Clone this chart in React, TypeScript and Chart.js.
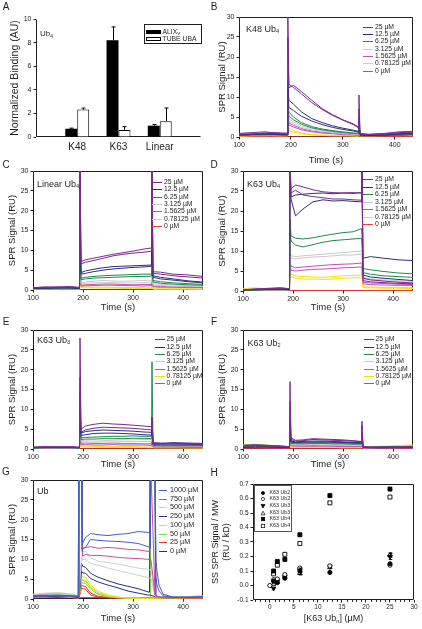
import React, { useEffect, useRef } from 'react';
import { Chart, registerables } from 'chart.js';

Chart.register(...registerables);

const FONT = "'Liberation Sans', Arial, Helvetica, sans-serif";
const INK = '#1f1f1f';
Chart.defaults.font.family = FONT;
Chart.defaults.color = INK;

/* ================= DATA ================= */

/* ---- Panel A: normalized binding ---- */
const A_CATEGORIES = ['K48', 'K63', 'Linear'];
const A_ALIX = [0.7, 8.2, 0.96];
const A_ALIX_ERR = [0.05, 1.13, 0.1];
const A_TUBE = [2.32, 0.6, 1.33];
const A_TUBE_ERR = [0.13, 0.28, 1.13];
const A_Y_TICKS = [0, 2, 4, 6, 8, 10];

/* ---- SPR panels B–F (concentration series, two replicate traces each) ---- */
const SPR_LABELS = ['25 µM', '12.5 µM', '6.25 µM', '3.125 µM', '1.5625 µM', '0.78125 µM', '0 µM'];
const SPR_COLORS = ['#7b2a8c', '#2b2f7d', '#1f8a4e', '#c9c9c9', '#c64bbd', '#f0e200', '#f23c3c'];
const SPR_TRACE_GROUP = [0, 0, 1, 1, 2, 2, 3, 3, 4, 4, 5, 5, 6];
const SPR_X_TICKS = [100, 200, 300, 400];
const SPR_Y_TICKS = [0, 5, 10, 15, 20, 25, 30];

const B_TIME = [100, 125, 150, 175, 190, 193, 194, 196, 205, 220, 240, 260, 280, 300, 320, 330, 331, 333, 350, 380, 410, 435];
const B_K48_UB4 = [
  [0.9, 1.1, 1.3, 0.9, 1.0, 1.0, 31, 13.2, 12.4, 10.8, 8.6, 6.9, 5.4, 4.2, 3.1, 2.3, 10.5, 0.9, 0.7, 0.9, 1.3, 1.4],
  [0.7, 0.8, 1.0, 1.1, 0.8, 0.8, 25, 12.3, 12.9, 11.4, 9.2, 7.1, 5.6, 4.3, 3.3, 2.5, 7.0, 0.7, 0.6, 0.8, 1.1, 1.2],
  [0.6, 0.7, 0.9, 0.8, 0.7, 0.7, 14, 9.2, 8.2, 6.3, 4.6, 3.6, 2.8, 2.2, 1.7, 1.4, 5.0, 0.6, 0.5, 0.5, 0.8, 0.9],
  [0.5, 0.6, 0.7, 0.6, 0.6, 0.6, 12, 7.4, 6.6, 5.2, 4.0, 3.1, 2.4, 1.9, 1.5, 1.2, 4.0, 0.5, 0.4, 0.5, 0.7, 0.8],
  [0.4, 0.6, 0.5, 0.7, 0.5, 0.5, 9, 6.2, 5.0, 3.6, 2.6, 2.0, 1.6, 1.3, 1.0, 0.9, 2.5, 0.4, 0.4, 0.3, 0.5, 0.6],
  [0.3, 0.5, 0.6, 0.5, 0.4, 0.4, 8, 5.2, 4.3, 3.2, 2.3, 1.8, 1.4, 1.1, 0.9, 0.8, 2.0, 0.3, 0.3, 0.4, 0.4, 0.5],
  [0.5, 0.4, 0.6, 0.4, 0.5, 0.5, 7, 4.5, 3.8, 2.8, 2.1, 1.6, 1.3, 1.0, 0.8, 0.7, 1.8, 0.5, 0.4, 0.5, 0.6, 0.7],
  [0.4, 0.5, 0.4, 0.6, 0.4, 0.4, 6, 4.0, 3.3, 2.4, 1.8, 1.4, 1.1, 0.9, 0.7, 0.6, 1.5, 0.4, 0.3, 0.4, 0.5, 0.6],
  [0.6, 0.5, 0.7, 0.6, 0.6, 0.6, 6, 3.5, 2.9, 2.1, 1.5, 1.2, 1.0, 0.8, 0.6, 0.5, 1.4, 0.5, 0.6, 0.7, 0.9, 1.0],
  [0.5, 0.4, 0.5, 0.5, 0.5, 0.5, 5, 3.0, 2.5, 1.8, 1.3, 1.0, 0.8, 0.6, 0.5, 0.4, 1.2, 0.4, 0.5, 0.6, 0.8, 0.9],
  [0.3, 0.4, 0.3, 0.5, 0.4, 0.4, 4, 2.2, 1.6, 1.0, 0.6, 0.5, 0.4, 0.4, 0.3, 0.3, 1.0, 0.3, 0.5, 0.6, 0.9, 1.0],
  [0.2, 0.3, 0.4, 0.3, 0.3, 0.3, 3, 1.6, 1.2, 0.8, 0.5, 0.4, 0.3, 0.3, 0.3, 0.2, 0.8, 0.3, 0.4, 0.5, 0.7, 0.8],
  [0.1, 0.1, 0.1, 0.1, 0.1, 0.1, 0.1, 0, 0, 0, 0, 0, 0, 0, 0, 0, 0, 0.1, 0.1, 0.1, 0.1, 0.1],
];

const CF_TIME = [100, 125, 150, 175, 190, 193, 194, 196, 205, 220, 240, 260, 280, 300, 320, 337, 338, 340, 355, 380, 410, 440];
const C_LINEAR_UB4 = [
  [0.6, 0.8, 0.7, 0.9, 0.7, 0.7, 32, 7.2, 7.6, 8.0, 8.5, 9.0, 9.4, 9.8, 10.3, 10.6, 31, 4.6, 4.5, 4.0, 3.8, 3.4],
  [0.5, 0.6, 0.8, 0.7, 0.6, 0.6, 30, 6.6, 7.0, 7.4, 8.0, 8.6, 9.0, 9.3, 9.5, 9.8, 30, 4.2, 4.0, 3.6, 3.3, 3.0],
  [0.4, 0.5, 0.6, 0.5, 0.5, 0.5, 31, 4.4, 4.8, 5.2, 5.6, 5.9, 6.0, 6.1, 6.2, 6.3, 30, 3.6, 3.2, 2.8, 2.3, 2.0],
  [0.3, 0.4, 0.5, 0.6, 0.4, 0.4, 20, 4.0, 4.2, 4.6, 5.0, 5.3, 5.5, 5.7, 5.8, 6.0, 18, 3.2, 2.8, 2.5, 2.1, 1.8],
  [0.5, 0.6, 0.4, 0.7, 0.5, 0.5, 12, 3.0, 3.2, 3.4, 3.6, 3.7, 3.8, 3.9, 4.0, 4.0, 8, 2.4, 2.1, 1.8, 1.6, 1.4],
  [0.4, 0.5, 0.6, 0.4, 0.4, 0.4, 10, 2.6, 2.8, 3.0, 3.1, 3.2, 3.3, 3.4, 3.4, 3.5, 6, 2.0, 1.7, 1.5, 1.3, 1.2],
  [0.3, 0.4, 0.3, 0.5, 0.3, 0.3, 8, 1.8, 2.0, 2.2, 2.4, 2.3, 2.2, 2.3, 2.4, 2.3, 4, 1.6, 1.4, 1.3, 1.1, 1.0],
  [0.2, 0.3, 0.4, 0.3, 0.3, 0.3, 7, 1.5, 1.7, 1.8, 1.9, 1.9, 1.8, 1.8, 1.9, 1.8, 3.5, 1.3, 1.1, 1.0, 1.0, 0.9],
  [0.2, 0.3, 0.2, 0.3, 0.2, 0.2, 6, 1.2, 1.3, 1.4, 1.5, 1.5, 1.4, 1.3, 1.4, 1.4, 3, 1.0, 0.9, 0.8, 0.8, 0.7],
  [0.1, 0.2, 0.3, 0.2, 0.2, 0.2, 5, 1.0, 1.1, 1.1, 1.2, 1.2, 1.1, 1.1, 1.0, 1.1, 2.5, 0.8, 0.7, 0.7, 0.6, 0.6],
  [0.1, 0.2, 0.1, 0.2, 0.1, 0.1, 4, 0.8, 0.8, 0.7, 0.7, 0.7, 0.6, 0.6, 0.6, 0.5, 2, 0.3, 0.3, 0.3, 0.3, 0.2],
  [0.1, 0.1, 0.2, 0.1, 0.1, 0.1, 3, 0.6, 0.6, 0.5, 0.5, 0.5, 0.4, 0.4, 0.4, 0.4, 1.5, 0.2, 0.2, 0.2, 0.2, 0.2],
  [0.1, 0.1, 0.1, 0.1, 0.1, 0.1, 0.1, 0, 0, 0, 0, 0, 0, 0, 0, 0, 0, 0, 0, 0, 0, 0],
];
const D_K63_UB4 = [
  [0.3, 0.5, 0.6, 0.8, 0.6, 0.6, 32, 25.5, 26.5, 26.0, 25.3, 24.8, 24.6, 24.5, 24.6, 24.5, 32, 3.2, 2.8, 2.5, 2.2, 2.0],
  [0.2, 0.4, 0.5, 0.6, 0.5, 0.5, 31, 24.5, 25.2, 24.0, 23.6, 23.3, 23.0, 23.0, 22.8, 22.7, 31, 2.6, 2.3, 2.1, 1.9, 1.8],
  [0.3, 0.4, 0.4, 0.5, 0.4, 0.4, 32, 23.0, 18.8, 20.5, 22.3, 22.8, 22.5, 22.6, 22.4, 22.3, 32, 8.2, 8.6, 8.2, 7.8, 7.6],
  [0.2, 0.3, 0.4, 0.5, 0.3, 0.3, 30, 23.5, 24.0, 24.2, 24.4, 24.5, 24.3, 24.5, 24.4, 24.6, 30, 4.0, 3.5, 3.2, 2.9, 2.6],
  [0.2, 0.3, 0.4, 0.3, 0.3, 0.3, 18, 13.8, 13.2, 13.0, 13.3, 13.8, 14.2, 14.6, 14.8, 15.6, 14, 5.6, 5.3, 4.9, 4.5, 4.3],
  [0.2, 0.2, 0.3, 0.4, 0.3, 0.3, 15, 12.5, 11.5, 11.0, 11.6, 12.2, 12.6, 12.8, 13.0, 13.2, 12, 4.6, 4.2, 3.8, 3.6, 3.4],
  [0.2, 0.3, 0.2, 0.4, 0.3, 0.3, 11, 8.8, 8.6, 8.8, 9.0, 9.2, 9.4, 9.6, 9.8, 10.0, 10, 3.4, 3.0, 2.8, 2.6, 2.4],
  [0.1, 0.2, 0.3, 0.2, 0.2, 0.2, 10, 8.2, 8.0, 8.3, 8.5, 8.6, 8.8, 9.0, 9.0, 9.2, 9, 3.0, 2.7, 2.5, 2.3, 2.2],
  [0.3, 0.5, 0.7, 0.8, 0.6, 0.6, 8, 6.2, 5.8, 6.0, 6.2, 6.4, 6.6, 6.7, 6.8, 7.0, 7, 2.2, 2.0, 1.9, 1.7, 1.6],
  [0.2, 0.4, 0.5, 0.6, 0.5, 0.5, 7, 5.2, 5.0, 5.2, 5.4, 5.5, 5.6, 5.8, 5.9, 6.0, 6, 1.8, 1.6, 1.5, 1.4, 1.4],
  [0.6, 0.8, 0.5, 0.4, 0.3, 0.3, 6, 4.2, 3.8, 3.6, 3.5, 3.4, 3.6, 3.8, 3.9, 4.0, 5, 1.0, 1.0, 0.9, 0.9, 0.8],
  [0.4, 0.6, 0.4, 0.3, 0.2, 0.2, 5, 3.6, 3.2, 3.0, 3.0, 2.9, 3.0, 3.2, 3.3, 3.3, 4, 0.8, 0.8, 0.7, 0.7, 0.6],
  [0.1, 0.1, 0.1, 0.1, 0.1, 0.1, 0.1, 0.1, 0.1, 0.1, 0.1, 0.1, 0.1, 0.1, 0.1, 0.1, 0.1, 0.1, 0.1, 0.1, 0.1, 0.1],
];
const E_K63_UB3 = [
  [0.5, 0.6, 0.4, 0.6, 0.5, 0.5, 28, 5.0, 5.8, 6.2, 6.5, 6.3, 6.2, 6.0, 5.8, 5.6, 8, 1.6, 1.5, 1.4, 1.4, 1.3],
  [0.4, 0.5, 0.6, 0.5, 0.4, 0.4, 18, 4.2, 4.8, 5.2, 5.5, 5.4, 5.3, 5.2, 5.0, 4.8, 7, 1.4, 1.3, 1.2, 1.2, 1.1],
  [0.4, 0.5, 0.5, 0.4, 0.4, 0.4, 14, 4.0, 4.4, 4.6, 4.8, 4.7, 4.6, 4.5, 4.3, 4.2, 8, 1.5, 1.4, 1.6, 1.5, 1.4],
  [0.3, 0.4, 0.4, 0.5, 0.3, 0.3, 12, 3.4, 3.6, 3.9, 4.0, 4.0, 3.9, 3.8, 3.6, 3.5, 6, 1.2, 1.2, 1.3, 1.2, 1.1],
  [0.3, 0.4, 0.3, 0.4, 0.3, 0.3, 10, 2.8, 2.9, 3.0, 3.1, 3.2, 3.2, 3.3, 3.2, 3.2, 22, 1.0, 1.0, 0.9, 0.9, 0.9],
  [0.2, 0.3, 0.3, 0.3, 0.2, 0.2, 8, 2.4, 2.5, 2.5, 2.6, 2.6, 2.6, 2.7, 2.7, 2.6, 5, 0.9, 0.8, 0.8, 0.8, 0.8],
  [0.3, 0.4, 0.3, 0.4, 0.3, 0.3, 7, 2.2, 2.1, 2.0, 2.1, 2.2, 2.3, 2.3, 2.4, 2.4, 4, 0.9, 0.9, 0.8, 0.9, 0.9],
  [0.2, 0.3, 0.2, 0.3, 0.2, 0.2, 6, 1.8, 1.8, 1.7, 1.8, 1.8, 1.9, 1.9, 1.9, 1.9, 3.5, 0.8, 0.7, 0.7, 0.8, 0.8],
  [0.2, 0.3, 0.2, 0.2, 0.2, 0.2, 5, 1.5, 1.5, 1.4, 1.4, 1.5, 1.4, 1.4, 1.3, 1.3, 3, 0.6, 0.6, 0.6, 0.5, 0.5],
  [0.1, 0.2, 0.2, 0.2, 0.1, 0.1, 4, 1.1, 1.1, 1.0, 1.0, 1.1, 1.0, 1.0, 1.0, 0.9, 2.5, 0.5, 0.5, 0.5, 0.4, 0.4],
  [0.1, 0.2, 0.1, 0.2, 0.1, 0.1, 3, 0.8, 0.8, 0.7, 0.6, 0.6, 0.6, 0.6, 0.5, 0.5, 2, 0.4, 0.4, 0.4, 0.3, 0.3],
  [0.1, 0.1, 0.1, 0.1, 0.1, 0.1, 2.5, 0.6, 0.5, 0.5, 0.4, 0.4, 0.4, 0.4, 0.4, 0.3, 1.5, 0.3, 0.3, 0.3, 0.3, 0.3],
  [0.05, 0.05, 0.05, 0.05, 0.05, 0.05, 0.05, 0.05, 0.05, 0.05, 0.05, 0.05, 0.05, 0.05, 0.05, 0.05, 0.05, 0.05, 0.05, 0.05, 0.05, 0.05],
];
const F_K63_UB2 = [
  [0.8, 1.0, 0.9, 0.7, 0.6, 0.6, 17, 2.8, 2.2, 2.3, 2.6, 2.5, 2.4, 2.3, 2.1, 1.9, 7, 0.6, 0.5, 0.5, 0.5, 0.6],
  [0.6, 0.7, 0.8, 0.6, 0.5, 0.5, 12, 2.4, 2.0, 2.1, 2.4, 2.3, 2.2, 2.1, 2.0, 1.8, 6, 0.5, 0.4, 0.4, 0.4, 0.5],
  [0.5, 0.6, 0.5, 0.5, 0.4, 0.4, 8, 2.0, 1.8, 1.9, 2.0, 2.0, 1.9, 1.8, 1.7, 1.6, 4, 0.4, 0.4, 0.4, 0.4, 0.4],
  [0.4, 0.5, 0.5, 0.4, 0.4, 0.4, 6, 1.8, 1.6, 1.7, 1.8, 1.8, 1.7, 1.6, 1.6, 1.5, 3.5, 0.4, 0.3, 0.3, 0.4, 0.4],
  [1.0, 1.1, 0.9, 0.8, 0.6, 0.6, 5, 1.6, 1.5, 1.5, 1.6, 1.6, 1.5, 1.5, 1.4, 1.4, 3, 0.5, 0.5, 0.6, 0.6, 0.7],
  [0.8, 0.9, 0.8, 0.7, 0.5, 0.5, 4, 1.4, 1.3, 1.3, 1.4, 1.4, 1.3, 1.3, 1.2, 1.2, 2.5, 0.4, 0.4, 0.5, 0.5, 0.5],
  [0.6, 0.7, 0.6, 0.6, 0.5, 0.5, 4, 1.3, 1.2, 1.2, 1.3, 1.2, 1.2, 1.1, 1.1, 1.0, 2, 0.4, 0.4, 0.5, 0.5, 0.5],
  [0.5, 0.6, 0.5, 0.5, 0.4, 0.4, 3.5, 1.1, 1.0, 1.0, 1.1, 1.0, 1.0, 1.0, 0.9, 0.9, 2, 0.3, 0.3, 0.4, 0.4, 0.4],
  [0.4, 0.5, 0.4, 0.4, 0.3, 0.3, 3, 1.0, 0.9, 0.9, 0.9, 0.9, 0.8, 0.8, 0.8, 0.8, 1.5, 0.3, 0.3, 0.3, 0.3, 0.3],
  [0.3, 0.4, 0.3, 0.3, 0.3, 0.3, 2.5, 0.8, 0.7, 0.7, 0.7, 0.7, 0.7, 0.6, 0.6, 0.6, 1.2, 0.2, 0.2, 0.2, 0.3, 0.3],
  [1.1, 1.2, 1.0, 0.8, 0.6, 0.6, 2, 0.6, 0.5, 0.5, 0.5, 0.5, 0.5, 0.4, 0.4, 0.4, 1, 0.5, 0.6, 0.7, 0.9, 1.0],
  [0.9, 1.0, 0.8, 0.6, 0.5, 0.5, 1.5, 0.5, 0.4, 0.4, 0.4, 0.4, 0.4, 0.3, 0.3, 0.3, 0.8, 0.4, 0.5, 0.6, 0.7, 0.8],
  [0.2, 0.2, 0.2, 0.2, 0.2, 0.2, 0.2, 0.2, 0.2, 0.2, 0.2, 0.2, 0.2, 0.2, 0.2, 0.2, 0.2, 0.2, 0.2, 0.2, 0.2, 0.2],
];

/* ---- Panel G: mono-ubiquitin ---- */
const G_LABELS = ['1000 µM', '750 µM', '500 µM', '250 µM', '100 µM', '50 µM', '25 µM', '0 µM'];
const G_COLORS = ['#4b5bc4', '#c64f9e', '#cfcfcf', '#2d2d85', '#ece200', '#7fd04f', '#ec3333', '#333344'];
const G_TRACE_GROUP = [0, 0, 1, 1, 2, 2, 3, 3, 4, 4, 5, 5, 6, 6, 7];
const G_TIME = [100, 125, 150, 175, 190, 191, 192, 193, 197, 198, 199, 205, 215, 230, 250, 270, 290, 310, 330, 333, 334, 335, 336, 344, 345, 346, 347, 352, 360, 380, 410, 440];
const G_UB = [
  [0.8, 0.9, 1.0, 0.8, 0.7, 32, 32, 32, 32, 32, 14.0, 15.5, 16.5, 16.2, 16.0, 16.3, 16.5, 17.0, 16.8, 16.7, 32, 32, 32, 32, 32, 9.0, 8.0, 3.5, 1.2, 0.5, 0.5, 0.6],
  [0.6, 0.7, 0.8, 0.7, 0.6, 0.6, 32, 32, 32, 12.0, 12.5, 13.0, 15.0, 14.8, 14.6, 14.5, 14.3, 14.0, 13.2, 13.0, 13.0, 32, 32, 32, 6.0, 5.0, 4.0, 2.0, 0.8, 0.4, 0.4, 0.5],
  [0.9, 1.0, 0.8, 0.9, 0.7, 0.7, 0.7, 32, 32, 12.5, 12.8, 13.0, 13.2, 12.8, 13.0, 12.8, 12.5, 12.4, 12.0, 12.0, 12.0, 12.0, 32, 1.5, 1.0, 0.8, 0.7, 0.5, 0.4, 0.4, 0.3, 0.4],
  [0.7, 0.8, 0.9, 0.6, 0.6, 32, 32, 32, 32, 32, 10.8, 11.2, 11.0, 11.0, 10.8, 10.5, 10.3, 10.2, 10.0, 10.0, 10.0, 10.0, 9.8, 1.0, 0.8, 0.7, 0.6, 0.5, 0.4, 0.4, 0.4, 0.5],
  [1.2, 1.5, 1.6, 1.3, 0.9, 0.9, 32, 32, 32, 11.5, 12.0, 12.0, 10.5, 9.5, 9.2, 8.8, 8.3, 7.8, 7.5, 7.4, 7.4, 7.3, 7.3, 0.9, 0.8, 0.7, 0.6, 0.5, 0.5, 0.5, 0.5, 0.6],
  [1.0, 1.1, 1.3, 1.0, 0.8, 0.8, 0.8, 0.8, 10.5, 10.2, 10.0, 10.0, 9.0, 8.5, 7.8, 7.2, 6.6, 6.0, 5.4, 5.3, 5.3, 5.2, 5.2, 0.7, 0.6, 0.6, 0.5, 0.5, 0.4, 0.4, 0.5, 0.5],
  [0.6, 0.7, 0.6, 0.7, 0.5, 0.5, 0.5, 0.5, 9.0, 8.6, 8.3, 8.0, 6.5, 5.5, 4.6, 3.8, 3.2, 2.6, 1.8, 1.7, 32, 32, 32, 32, 32, 0.8, 0.7, 0.6, 0.5, 0.4, 0.4, 0.5],
  [0.5, 0.6, 0.5, 0.6, 0.4, 0.4, 0.4, 0.4, 7.0, 6.8, 6.6, 6.5, 5.2, 4.3, 3.5, 2.8, 2.0, 1.5, 1.0, 1.0, 1.0, 1.0, 0.9, 0.6, 0.5, 0.5, 0.5, 0.4, 0.3, 0.3, 0.4, 0.4],
  [0.5, 0.6, 0.7, 0.5, 0.4, 0.4, 0.4, 0.4, 5.8, 5.7, 5.6, 5.5, 3.5, 2.0, 1.0, 0.5, 0.3, 0.2, 0.2, 0.2, 0.2, 0.2, 0.2, 0.3, 0.3, 0.3, 0.3, 0.3, 0.3, 0.3, 0.4, 0.4],
  [0.4, 0.5, 0.6, 0.4, 0.3, 0.3, 0.3, 0.3, 5.0, 4.9, 4.8, 4.8, 3.0, 1.6, 0.8, 0.4, 0.2, 0.2, 0.1, 0.1, 0.1, 0.1, 0.1, 0.2, 0.2, 0.2, 0.2, 0.2, 0.2, 0.2, 0.3, 0.3],
  [1.0, 1.3, 1.5, 1.2, 0.8, 0.8, 0.8, 0.8, 4.8, 4.7, 4.6, 4.5, 3.0, 1.5, 0.7, 0.4, 0.3, 0.3, 0.2, 0.2, 0.2, 32, 32, 32, 0.5, 0.5, 0.5, 0.4, 0.4, 0.5, 0.6, 0.8],
  [0.8, 1.0, 1.2, 0.9, 0.6, 0.6, 0.6, 0.6, 4.2, 4.1, 4.0, 4.0, 2.5, 1.2, 0.5, 0.3, 0.2, 0.2, 0.2, 0.2, 0.2, 0.2, 0.2, 0.4, 0.4, 0.3, 0.3, 0.3, 0.4, 0.4, 0.5, 0.6],
  [0.4, 0.5, 0.4, 0.5, 0.3, 0.3, 0.3, 0.3, 3.5, 3.4, 3.3, 3.2, 1.5, 0.7, 0.4, 0.3, 0.2, 0.2, 0.2, 0.2, 0.2, 0.2, 0.2, 0.2, 0.2, 0.2, 0.2, 0.2, 0.2, 0.2, 0.2, 0.2],
  [0.3, 0.4, 0.3, 0.4, 0.2, 0.2, 0.2, 0.2, 2.8, 2.7, 2.6, 2.5, 1.0, 0.5, 0.3, 0.2, 0.2, 0.2, 0.1, 0.1, 0.1, 0.1, 0.1, 0.1, 0.1, 0.1, 0.1, 0.1, 0.1, 0.1, 0.1, 0.1],
  [0.3, 0.3, 0.3, 0.3, 0.3, 0.3, 0.3, 0.3, 0.3, 0.3, 0.3, 0.3, 0.3, 0.3, 0.3, 0.3, 0.3, 0.3, 0.3, 0.3, 0.3, 0.3, 0.3, 0.3, 0.3, 0.3, 0.3, 0.3, 0.3, 0.3, 0.3, 0.3],
];

/* ---- Panel H: steady-state signal ---- */
const H_CONC = [0, 0.78125, 1.5625, 3.125, 6.25, 12.5, 25];
const H_LABELS = ['K63 Ub2', 'K63 Ub2', 'K63 Ub3', 'K63 Ub3', 'K63 Ub4', 'K63 Ub4'];
const H_UB2_FILLED = [null, 0.03, 0.02, 0.05, 0.1, 0.09, 0.15];
const H_UB2_OPEN = [0.0, 0.04, 0.045, 0.075, 0.12, 0.135, 0.14];
const H_UB3_FILLED = [null, -0.02, 0.03, 0.06, 0.105, 0.13, 0.2];
const H_UB3_OPEN = [null, 0.01, 0.025, 0.065, 0.085, 0.125, 0.21];
const H_UB4_FILLED = [null, 0.1, 0.165, 0.18, 0.35, 0.62, 0.665];
const H_UB4_OPEN = [null, 0.08, 0.14, 0.215, 0.29, 0.57, 0.61];
const H_UB3_FILLED_ERR = [0, 0, 0, 0, 0.015, 0, 0.02];
const H_UB3_OPEN_ERR = [0, 0, 0, 0, 0.012, 0, 0.015];
const H_X_TICKS = [0, 5, 10, 15, 20, 25, 30];
const H_Y_TICKS = [-0.1, 0, 0.1, 0.2, 0.3, 0.4, 0.5, 0.6, 0.7];

/* ================= LAYOUT ================= */

type Geom = { cx: number; cy: number; cw: number; ch: number; l: number; t: number; r: number; b: number; yt: number; xt?: number };

const GEOM: Record<string, Geom> = {
  A: { cx: 0, cy: 8, cw: 210, ch: 152, l: 36, t: 19, r: 201, b: 137, yt: 15 },
  B: { cx: 210, cy: 8, cw: 212, ch: 160, l: 239, t: 17, r: 413, b: 137, yt: 222, xt: 160 },
  C: { cx: 0, cy: 163, cw: 210, ch: 152, l: 33, t: 171, r: 203, b: 290, yt: 12, xt: 307 },
  D: { cx: 210, cy: 163, cw: 212, ch: 152, l: 243, t: 171, r: 413, b: 291, yt: 222, xt: 307 },
  E: { cx: 0, cy: 322, cw: 210, ch: 150, l: 33, t: 330, r: 203, b: 449, yt: 12, xt: 464 },
  F: { cx: 210, cy: 322, cw: 212, ch: 150, l: 243, t: 330, r: 413, b: 449, yt: 222, xt: 464 },
  G: { cx: 0, cy: 472, cw: 210, ch: 157, l: 33, t: 480, r: 203, b: 599, yt: 12, xt: 618 },
  H: { cx: 210, cy: 472, cw: 212, ch: 157, l: 253, t: 484, r: 414, b: 600, yt: 216 },
};

/* ================= HELPERS ================= */

function framePlugin(box: boolean) {
  return {
    id: 'frame',
    beforeDatasetsDraw(chart: any) {
      const { ctx, chartArea: a } = chart;
      const l = Math.round(a.left) + 0.5;
      const r = Math.round(a.right) - 0.5;
      const t = Math.round(a.top) + 0.5;
      const b = Math.round(a.bottom) - 0.5;
      ctx.save();
      ctx.strokeStyle = INK;
      ctx.lineWidth = 1;
      ctx.beginPath();
      if (box) {
        ctx.rect(l, t, r - l, b - t);
      } else {
        ctx.moveTo(l, t);
        ctx.lineTo(l, b);
        ctx.lineTo(r, b);
      }
      ctx.stroke();
      ctx.restore();
    },
  };
}

const errorBarPlugin = {
  id: 'errorBars',
  afterDatasetsDraw(chart: any) {
    const { ctx } = chart;
    const ys = chart.scales.y;
    chart.data.datasets.forEach((ds: any, i: number) => {
      if (!ds.errorMode) return;
      const meta = chart.getDatasetMeta(i);
      meta.data.forEach((el: any, j: number) => {
        const p = ds.data[j];
        if (!p || !p.e) return;
        const top = ys.getPixelForValue(p.y + p.e);
        const bot = ds.errorMode === 'both' ? ys.getPixelForValue(p.y - p.e) : ys.getPixelForValue(p.y);
        const cap = ds.errorCap || 2;
        const x = Math.round(el.x) + 0.5;
        ctx.save();
        ctx.strokeStyle = '#000';
        ctx.lineWidth = 1;
        ctx.beginPath();
        ctx.moveTo(x, bot);
        ctx.lineTo(x, top);
        ctx.moveTo(x - cap, top);
        ctx.lineTo(x + cap, top);
        if (ds.errorMode === 'both') {
          ctx.moveTo(x - cap, bot);
          ctx.lineTo(x + cap, bot);
        }
        ctx.stroke();
        ctx.restore();
      });
    });
  },
};

function minorTickPlugin(from: number, to: number, step: number, skipEvery: number) {
  return {
    id: 'minorTicks',
    afterDraw(chart: any) {
      const { ctx, chartArea: a } = chart;
      const xs = chart.scales.x;
      ctx.save();
      ctx.strokeStyle = INK;
      ctx.lineWidth = 1;
      ctx.beginPath();
      for (let v = from; v <= to + 1e-9; v += step) {
        if (Math.abs(v / skipEvery - Math.round(v / skipEvery)) < 1e-6) continue;
        const x = Math.round(xs.getPixelForValue(v)) + 0.5;
        ctx.moveTo(x, a.bottom);
        ctx.lineTo(x, a.bottom + 1.8);
      }
      ctx.stroke();
      ctx.restore();
    },
  };
}

function yScale(g: Geom, min: number, max: number, ticks: number[], title: string | string[], titleSize: number, tickSize: number, fmt?: (v: number) => string) {
  const lh = titleSize * 1.2;
  const s: any = {
    type: 'linear',
    position: 'left',
    min,
    max,
    bounds: 'data',
    afterFit: (sc: any) => {
      sc.width = g.l - g.cx;
    },
    afterBuildTicks: (sc: any) => {
      sc.ticks = ticks.map((value) => ({ value }));
    },
    ticks: { font: { family: FONT, size: tickSize }, color: INK, padding: 2, autoSkip: false },
    grid: { display: true, drawOnChartArea: false, drawTicks: true, tickLength: 2.5, color: INK, lineWidth: 1 },
    border: { display: false },
    title: {
      display: true,
      text: title,
      color: INK,
      font: { family: FONT, size: titleSize },
      padding: { top: g.yt - g.cx - lh / 2, bottom: 0 },
    },
  };
  if (fmt) s.ticks.callback = (v: any) => fmt(Number(v));
  return s;
}

function xScale(g: Geom, min: number, max: number, ticks: number[], title: string | null, titleSize: number, tickSize: number) {
  const lh = titleSize * 1.2;
  return {
    type: 'linear',
    position: 'bottom',
    min,
    max,
    bounds: 'data',
    offset: false,
    afterFit: (sc: any) => {
      sc.height = g.cy + g.ch - g.b;
    },
    afterBuildTicks: (sc: any) => {
      sc.ticks = ticks.map((value) => ({ value }));
    },
    ticks: { font: { family: FONT, size: tickSize }, color: INK, padding: 1, autoSkip: false, maxRotation: 0 },
    grid: { display: true, offset: false, drawOnChartArea: false, drawTicks: true, tickLength: 2.5, color: INK, lineWidth: 1 },
    border: { display: false },
    title: title
      ? {
          display: true,
          text: title,
          color: INK,
          font: { family: FONT, size: titleSize },
          padding: { top: 0, bottom: g.cy + g.ch - (g.xt as number) - lh / 2 },
        }
      : { display: false },
  };
}

function baseOptions(g: Geom) {
  return {
    responsive: false,
    maintainAspectRatio: false,
    animation: false,
    devicePixelRatio: 1,
    events: [],
    layout: { padding: { top: g.t - g.cy, right: g.cx + g.cw - g.r, left: 0, bottom: 0 } },
    plugins: { legend: { display: false }, tooltip: { enabled: false }, title: { display: false } },
  };
}

function sprConfig(g: Geom, time: number[], traces: number[][], group: number[], colors: string[], labels: string[], xmax: number) {
  return {
    type: 'line',
    data: {
      datasets: traces.map((tr, i) => ({
        label: labels[group[i]],
        data: tr.map((y, j) => ({ x: time[j], y })),
        borderColor: colors[group[i]],
        backgroundColor: colors[group[i]],
        borderWidth: 1,
        pointRadius: 0,
        fill: false,
        tension: 0,
      })),
    },
    options: {
      ...baseOptions(g),
      scales: {
        x: xScale(g, 100, xmax, SPR_X_TICKS, 'Time (s)', 9.5, 7),
        y: yScale(g, 0, 30, SPR_Y_TICKS, 'SPR Signal (RU)', 9.5, 7),
      },
    },
    plugins: [framePlugin(true)],
  };
}

function makeA() {
  const g = GEOM.A;
  return {
    type: 'bar',
    data: {
      datasets: [
        {
          label: 'ALIX V',
          data: A_ALIX.map((y, i) => ({ x: i + 1, y, e: A_ALIX_ERR[i] })),
          backgroundColor: '#000',
          borderColor: '#000',
          borderWidth: 0,
          categoryPercentage: 0.58,
          barPercentage: 1,
          errorMode: 'up',
        },
        {
          label: 'TUBE UBA',
          data: A_TUBE.map((y, i) => ({ x: i + 1, y, e: A_TUBE_ERR[i] })),
          backgroundColor: '#fff',
          borderColor: '#000',
          borderWidth: 1,
          categoryPercentage: 0.58,
          barPercentage: 1,
          errorMode: 'up',
        },
      ],
    },
    options: {
      ...baseOptions(g),
      scales: {
        x: {
          ...xScale(g, 0, A_CATEGORIES.length + 1, A_CATEGORIES.map((_, i) => i + 1), null, 10, 10),
          ticks: {
            font: { family: FONT, size: 10 },
            color: INK,
            padding: 4,
            autoSkip: false,
            maxRotation: 0,
            callback: (v: any) => A_CATEGORIES[Math.round(Number(v)) - 1] ?? '',
          },
          grid: { display: true, drawOnChartArea: false, drawTicks: false },
        },
        y: yScale(g, 0, 10, A_Y_TICKS, 'Normalized Binding (AU)', 10.5, 7),
      },
    },
    plugins: [framePlugin(false), errorBarPlugin],
  };
}

const H_STYLES = [
  { pointStyle: 'circle', rotation: 0, filled: true, r: 2.1 },
  { pointStyle: 'circle', rotation: 0, filled: false, r: 2.1 },
  { pointStyle: 'triangle', rotation: 180, filled: true, r: 2.6 },
  { pointStyle: 'triangle', rotation: 0, filled: false, r: 2.6 },
  { pointStyle: 'rect', rotation: 0, filled: true, r: 2.8 },
  { pointStyle: 'rect', rotation: 0, filled: false, r: 2.8 },
];

function makeH() {
  const g = GEOM.H;
  const series = [H_UB2_FILLED, H_UB2_OPEN, H_UB3_FILLED, H_UB3_OPEN, H_UB4_FILLED, H_UB4_OPEN];
  const errs: (number[] | null)[] = [null, null, H_UB3_FILLED_ERR, H_UB3_OPEN_ERR, null, null];
  return {
    type: 'scatter',
    data: {
      datasets: series.map((arr, k) => ({
        label: H_LABELS[k],
        data: H_CONC.map((x, i) => ({ x, y: arr[i], e: errs[k] ? (errs[k] as number[])[i] : 0 })).filter((p) => p.y !== null),
        pointStyle: H_STYLES[k].pointStyle,
        rotation: H_STYLES[k].rotation,
        pointRadius: H_STYLES[k].r,
        pointBackgroundColor: H_STYLES[k].filled ? '#000' : '#fff',
        pointBorderColor: '#000',
        pointBorderWidth: 0.9,
        showLine: false,
        errorMode: 'both',
        errorCap: 1.8,
      })),
    },
    options: {
      ...baseOptions(g),
      scales: {
        x: xScale(g, -3.5, 30, H_X_TICKS, null, 9, 6.5),
        y: yScale(g, -0.1, 0.7, H_Y_TICKS, ['SS SPR Signal / MW', '(RU / kD)'], 9, 6.5, (v) => v.toFixed(1)),
      },
    },
    plugins: [framePlugin(true), errorBarPlugin, minorTickPlugin(-3, 30, 1, 5)],
  };
}

/* ================= COMPONENTS ================= */

function ChartBox({ g, make }: { g: Geom; make: () => any }) {
  const ref = useRef<HTMLCanvasElement>(null);
  useEffect(() => {
    const chart = new Chart(ref.current as HTMLCanvasElement, make());
    return () => chart.destroy();
  }, []);
  return (
    <canvas
      ref={ref}
      width={g.cw}
      height={g.ch}
      style={{ position: 'absolute', left: g.cx, top: g.cy, width: g.cw, height: g.ch }}
    />
  );
}

const Sub = ({ children }: { children: any }) => (
  <span style={{ fontSize: '0.62em', position: 'relative', top: '0.32em', lineHeight: 0 }}>{children}</span>
);

function Txt({ x, y, size, center, children }: { x: number; y: number; size: number; center?: boolean; children: any }) {
  return (
    <div
      style={{
        position: 'absolute',
        left: x,
        top: y,
        transform: center ? 'translate(-50%, -50%)' : 'translate(0, -50%)',
        fontFamily: FONT,
        fontSize: size,
        lineHeight: 1,
        color: INK,
        whiteSpace: 'nowrap',
      }}
    >
      {children}
    </div>
  );
}

type LegLay = { x1: number; x2: number; tx: number; y0: number; dy: number; size: number };

function LineLegend({ lay, labels, colors }: { lay: LegLay; labels: string[]; colors: string[] }) {
  return (
    <>
      {labels.map((lab, i) => {
        const y = lay.y0 + i * lay.dy;
        return (
          <React.Fragment key={i}>
            <div style={{ position: 'absolute', left: Math.round(lay.x1), top: Math.round(y), width: Math.round(lay.x2 - lay.x1), height: 1, background: colors[i] }} />
            <Txt x={lay.tx} y={y} size={lay.size}>
              {lab}
            </Txt>
          </React.Fragment>
        );
      })}
    </>
  );
}

function HMarker({ k }: { k: number }) {
  const s = H_STYLES[k];
  const fill = s.filled ? '#000' : '#fff';
  let shape: any;
  if (s.pointStyle === 'circle') shape = <circle cx={3} cy={3} r={1.6} fill={fill} stroke="#000" strokeWidth={0.7} />;
  else if (s.pointStyle === 'rect') shape = <rect x={1.3} y={1.3} width={3.4} height={3.4} fill={fill} stroke="#000" strokeWidth={0.7} />;
  else if (s.rotation === 180) shape = <polygon points="1,1.5 5,1.5 3,5" fill={fill} stroke="#000" strokeWidth={0.7} />;
  else shape = <polygon points="1,4.8 5,4.8 3,1.2" fill={fill} stroke="#000" strokeWidth={0.7} />;
  return (
    <svg width={6} height={6} style={{ position: 'absolute', left: -3, top: -3 }}>
      {shape}
    </svg>
  );
}

const LEG_B: LegLay = { x1: 363, x2: 373, tx: 375, y0: 26.7, dy: 7.3, size: 6.8 };
const LEG_C: LegLay = { x1: 152, x2: 162, tx: 164, y0: 181.7, dy: 7.4, size: 6.8 };
const LEG_D: LegLay = { x1: 363, x2: 373, tx: 375, y0: 179.3, dy: 7.45, size: 6.8 };
const LEG_E: LegLay = { x1: 155, x2: 165, tx: 166.5, y0: 339.3, dy: 7.33, size: 6.8 };
const LEG_F: LegLay = { x1: 364, x2: 374, tx: 375.5, y0: 339.3, dy: 7.33, size: 6.8 };
const LEG_G: LegLay = { x1: 159, x2: 167, tx: 170, y0: 490, dy: 8.7, size: 7.2 };

export default function App() {
  return (
    <div style={{ position: 'absolute', left: 0, top: 0, width: 422, height: 629, background: '#fff', overflow: 'hidden' }}>
      <ChartBox g={GEOM.A} make={makeA} />
      <ChartBox g={GEOM.B} make={() => sprConfig(GEOM.B, B_TIME, B_K48_UB4, SPR_TRACE_GROUP, SPR_COLORS, SPR_LABELS, 435)} />
      <ChartBox g={GEOM.C} make={() => sprConfig(GEOM.C, CF_TIME, C_LINEAR_UB4, SPR_TRACE_GROUP, SPR_COLORS, SPR_LABELS, 440)} />
      <ChartBox g={GEOM.D} make={() => sprConfig(GEOM.D, CF_TIME, D_K63_UB4, SPR_TRACE_GROUP, SPR_COLORS, SPR_LABELS, 440)} />
      <ChartBox g={GEOM.E} make={() => sprConfig(GEOM.E, CF_TIME, E_K63_UB3, SPR_TRACE_GROUP, SPR_COLORS, SPR_LABELS, 440)} />
      <ChartBox g={GEOM.F} make={() => sprConfig(GEOM.F, CF_TIME, F_K63_UB2, SPR_TRACE_GROUP, SPR_COLORS, SPR_LABELS, 440)} />
      <ChartBox g={GEOM.G} make={() => sprConfig(GEOM.G, G_TIME, G_UB, G_TRACE_GROUP, G_COLORS, G_LABELS, 440)} />
      <ChartBox g={GEOM.H} make={makeH} />

      {/* panel letters */}
      <Txt x={6} y={7} size={10} center>A</Txt>
      <Txt x={214} y={7} size={10} center>B</Txt>
      <Txt x={6} y={165} size={10} center>C</Txt>
      <Txt x={214} y={165} size={10} center>D</Txt>
      <Txt x={6} y={322} size={10} center>E</Txt>
      <Txt x={214} y={322} size={10} center>F</Txt>
      <Txt x={6} y={472} size={10} center>G</Txt>
      <Txt x={214} y={473} size={10} center>H</Txt>

      {/* inner labels */}
      <Txt x={40} y={34} size={8}>Ub<Sub>4</Sub></Txt>
      <Txt x={246} y={28.5} size={9}>K48 Ub<Sub>4</Sub></Txt>
      <Txt x={37} y={183.5} size={9}>Linear Ub<Sub>4</Sub></Txt>
      <Txt x={247} y={183.5} size={9}>K63 Ub<Sub>4</Sub></Txt>
      <Txt x={37} y={339.5} size={9}>K63 Ub<Sub>3</Sub></Txt>
      <Txt x={247.5} y={342.5} size={9}>K63 Ub<Sub>2</Sub></Txt>
      <Txt x={37} y={491} size={9}>Ub</Txt>

      {/* panel A legend */}
      <div style={{ position: 'absolute', left: 144, top: 24, width: 58, height: 20, border: `1px solid ${INK}`, boxSizing: 'border-box' }} />
      <div style={{ position: 'absolute', left: 146, top: 29.5, width: 14.5, height: 4.5, background: '#000' }} />
      <Txt x={162.5} y={31.8} size={6.8}>ALIX<Sub>V</Sub></Txt>
      <div style={{ position: 'absolute', left: 146, top: 36.5, width: 14.5, height: 4, border: '1px solid #000', boxSizing: 'border-box', background: '#fff' }} />
      <Txt x={162.5} y={38.8} size={6.8}>TUBE UBA</Txt>

      {/* SPR legends */}
      <LineLegend lay={LEG_B} labels={SPR_LABELS} colors={SPR_COLORS} />
      <LineLegend lay={LEG_C} labels={SPR_LABELS} colors={SPR_COLORS} />
      <LineLegend lay={LEG_D} labels={SPR_LABELS} colors={SPR_COLORS} />
      <LineLegend lay={LEG_E} labels={SPR_LABELS} colors={SPR_COLORS} />
      <LineLegend lay={LEG_F} labels={SPR_LABELS} colors={SPR_COLORS} />
      <LineLegend lay={LEG_G} labels={G_LABELS} colors={G_COLORS} />

      {/* panel H legend */}
      <div style={{ position: 'absolute', left: 254, top: 485, width: 38, height: 47, border: '1px solid #555', boxSizing: 'border-box', background: '#fff' }} />
      {H_LABELS.map((lab, k) => {
        const y = 492.7 + k * 6.6;
        return (
          <React.Fragment key={k}>
            <div style={{ position: 'absolute', left: 262.7, top: y, width: 0, height: 0 }}>
              <HMarker k={k} />
            </div>
            <Txt x={269.5} y={y} size={5.3}>{lab}</Txt>
          </React.Fragment>
        );
      })}

      {/* panel H x title */}
      <Txt x={333.5} y={618} size={9} center>
        [K63 Ub<Sub>n</Sub>] (µM)
      </Txt>
    </div>
  );
}
